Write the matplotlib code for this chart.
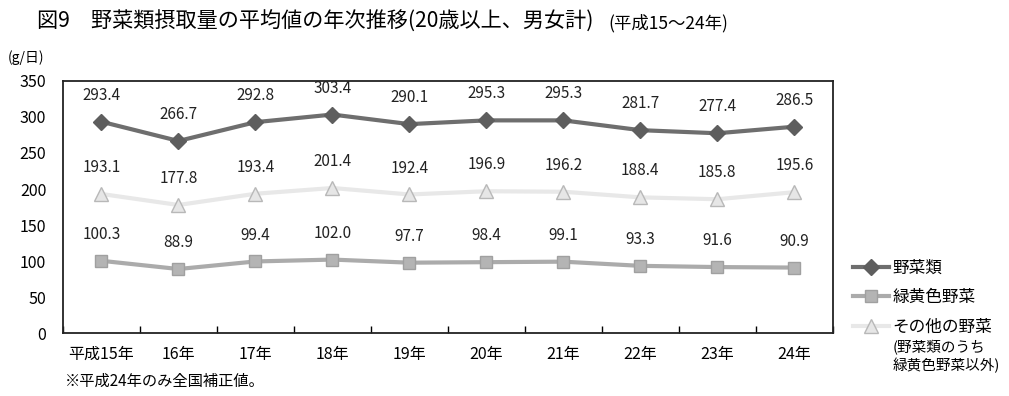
import numpy as np
import matplotlib.pyplot as plt

plt.rcParams['font.family'] = ['Noto Sans CJK JP', 'DejaVu Sans']

years = ["平成15年", "16年", "17年", "18年", "19年", "20年", "21年", "22年", "23年", "24年"]
vegetables = [293.4, 266.7, 292.8, 303.4, 290.1, 295.3, 295.3, 281.7, 277.4, 286.5]
green_yellow = [100.3, 88.9, 99.4, 102.0, 97.7, 98.4, 99.1, 93.3, 91.6, 90.9]
other_veg = [193.1, 177.8, 193.4, 201.4, 192.4, 196.9, 196.2, 188.4, 185.8, 195.6]

fig = plt.figure(figsize=(10.09, 3.96), dpi=100)
ax = fig.add_axes([0.0624, 0.159, 0.763, 0.6365])

x = np.arange(len(years))

ax.plot(x, vegetables, color="#6e6e6e", lw=3, marker="D", ms=8,
        mfc="#5e5e5e", mec="#5e5e5e", label="野菜類", zorder=3)
ax.plot(x, green_yellow, color="#ababab", lw=3, marker="s", ms=8.5,
        mfc="#b4b4b4", mec="#a0a0a0", label="緑黄色野菜", zorder=3)
ax.plot(x, other_veg, color="#e8e8e8", lw=3, marker="^", ms=10,
        mfc="#e6e6e6", mec="#b8b8b8", label="その他の野菜", zorder=3)

for series in (vegetables, green_yellow, other_veg):
    for xi, v in zip(x, series):
        ax.annotate(f"{v:.1f}", (xi, v), xytext=(0, 19), textcoords="offset points",
                    ha="center", va="center", fontsize=11, color="#222222")

ax.set_xlim(-0.5, len(years) - 0.5)
ax.set_ylim(0, 350)
ax.set_yticks(np.arange(0, 351, 50))
ax.set_xticks(x)
ax.set_xticklabels(years, fontsize=11.5)
ax.set_xticks(np.arange(-0.5, len(years), 1), minor=True)
ax.tick_params(axis="x", which="major", length=0, pad=9)
ax.tick_params(axis="x", which="minor", length=5, direction="in", width=1)
ax.tick_params(axis="y", length=0, pad=12, labelsize=11.5)
for s in ax.spines.values():
    s.set_color("#222222")
    s.set_linewidth(1.3)

fig.text(0.037, 0.945, "図9　野菜類摂取量の平均値の年次推移(20歳以上、男女計)",
         fontsize=15.2, va="center", ha="left")
fig.text(0.603, 0.942, "(平成15～24年)", fontsize=12.5, va="center", ha="left")
fig.text(0.008, 0.855, "(g/日)", fontsize=10, va="center", ha="left")
fig.text(0.064, 0.038, "※平成24年のみ全国補正値。", fontsize=11, va="center", ha="left")

handles, labels = ax.get_legend_handles_labels()
leg = fig.legend(handles, labels, loc="upper left", bbox_to_anchor=(0.845, 0.345),
                 frameon=False, fontsize=12, handlelength=2.2, labelspacing=0.75,
                 handletextpad=0.2, borderpad=0, borderaxespad=0)
fig.text(0.885, 0.1, "(野菜類のうち\n緑黄色野菜以外)", fontsize=10.5, va="center",
         ha="left", linespacing=1.25)

fig.savefig("out.png", dpi=100)
